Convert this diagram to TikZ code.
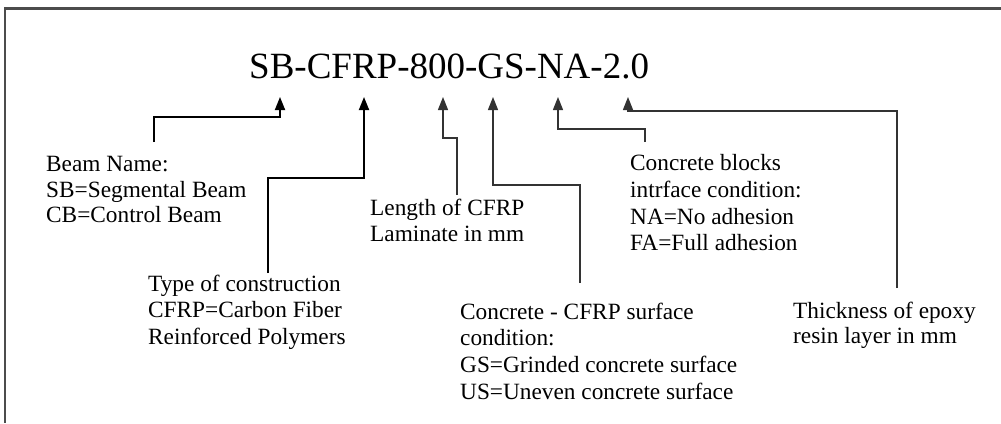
\documentclass[tikz,border=0pt]{standalone}
\usepackage{fontspec}
\setmainfont{Liberation Serif}
\usetikzlibrary{arrows.meta}

\begin{document}
\begin{tikzpicture}[
    x=1pt, y=-1pt,
    note/.style={anchor=north west, inner sep=0pt, align=left, font=\fontsize{23.3}{26.7}\selectfont},
    tag/.style={anchor=base west, inner sep=0pt, font=\fontsize{37}{40}\selectfont},
    lead/.style={-{Triangle[length=13pt, width=10pt]}, line width=1.3pt, draw=black!80},
    heavy/.style={line width=1.8pt, draw=black}
]
\useasboundingbox (0,0) rectangle (1001,423);
\draw[line width=2.2pt, black!70] (1001,8.5) -- (5,8.5) -- (5,423);

\node (code) at (249,78) [tag] {SB-CFRP-800-GS-NA-2.0};

\node (beam) at (46,156.5) [note, font=\fontsize{23.3}{25.5}\selectfont] {Beam Name:\\SB=Segmental Beam\\CB=Control Beam};
\node (type) at (148,274.5) [note] {Type of construction\\CFRP=Carbon Fiber\\Reinforced Polymers};
\node (length) at (370,198.5) [note] {Length of CFRP\\Laminate in mm};
\node (surface) at (460,302.5) [note] {Concrete - CFRP surface\\condition:\\GS=Grinded concrete surface\\US=Uneven concrete surface};
\node (blocks) at (630,154.5) [note] {Concrete blocks\\intrface condition:\\NA=No adhesion\\FA=Full adhesion};
\node (thick) at (793,301.5) [note, font=\fontsize{23.3}{25}\selectfont] {Thickness of epoxy\\resin layer in mm};

% arrow tips under the code
\coordinate (tSB) at (280,97);
\coordinate (tCFRP) at (364,97);
\coordinate (t800) at (443,97);
\coordinate (tGS) at (493,97);
\coordinate (tNA) at (558,97);
\coordinate (tTH) at (628,97);

% line feet above the notes
\coordinate (fSB) at (154,142);
\coordinate (fCFRP) at (268,273);
\coordinate (f800) at (457,195);
\coordinate (fGS) at (580,283);
\coordinate (fNA) at (645,142);
\coordinate (fTH) at (897,288);

\draw[lead, heavy] (fSB) -- ++(0,-25) -| (tSB);
\draw[lead, heavy] (fCFRP) -- ++(0,-95) -| (tCFRP);
\draw[lead] (f800) -- ++(0,-57) -| (t800);
\draw[lead] (fGS) -- ++(0,-98) -| (tGS);
\draw[lead] (fNA) -- ++(0,-13) -| (tNA);
\draw[lead] (fTH) -- ++(0,-177) -| (tTH);
\end{tikzpicture}
\end{document}
